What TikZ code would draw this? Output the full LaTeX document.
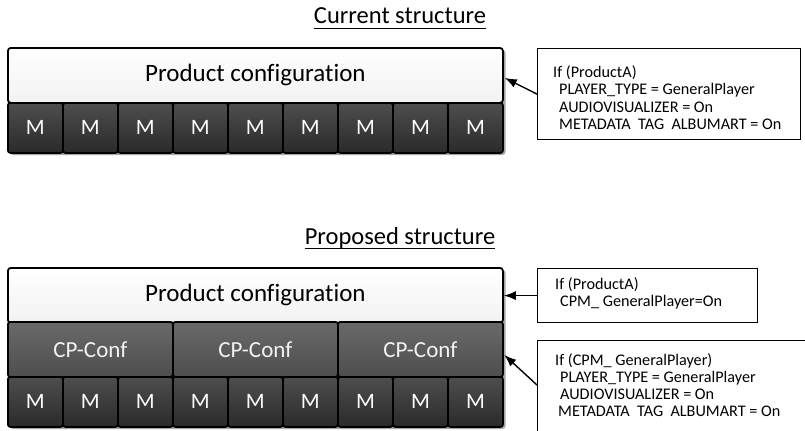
\documentclass[tikz,border=0pt]{standalone}
\usepackage{fontspec}
\setmainfont{Carlito}[Ligatures={NoCommon,NoRare,NoContextual}]
\usetikzlibrary{arrows.meta}
\definecolor{mTop}{HTML}{4E4E4E}
\definecolor{mBot}{HTML}{2A2A2A}
\definecolor{cTop}{HTML}{696969}
\definecolor{cBot}{HTML}{4E4E4E}
\definecolor{pBot}{HTML}{F2F2F2}
\definecolor{shadowgray}{HTML}{A6A6A6}
\tikzset{
  prodbox/.style={draw=black, line width=1.8bp, rounded corners=3bp, top color=white, bottom color=pBot,
    minimum width=495bp, minimum height=55bp, anchor=north west, inner sep=0, text=black,
    font=\fontsize{25bp}{30bp}\selectfont},
  mcell/.style={draw=black, line width=1.8bp, rounded corners=2.5bp, top color=mTop, bottom color=mBot,
    minimum width=55bp, minimum height=50bp, anchor=north west, inner sep=0, text=white,
    font=\fontsize{22bp}{26bp}\selectfont},
  cpcell/.style={draw=black, line width=1.8bp, rounded corners=2.5bp, top color=cTop, bottom color=cBot,
    minimum width=165bp, minimum height=55bp, anchor=north west, inner sep=0, text=white!95!black,
    font=\fontsize{23bp}{27bp}\selectfont},
  notebox/.style={draw=black, line width=1.2bp, anchor=north west, inner sep=0, fill=white},
  notetxt/.style={anchor=base west, inner sep=0, font=\fontsize{16.2bp}{17.5bp}\selectfont},
  titletxt/.style={anchor=base, inner sep=0, font=\fontsize{24.5bp}{28bp}\selectfont},
  arr/.style={-{Latex[length=12bp,width=9bp]}, line width=1.4bp},
  shadowfill/.style={fill=shadowgray, rounded corners=3bp}
}
\begin{document}
\begin{tikzpicture}[x=1bp, y=-1bp]
\useasboundingbox (0,0) rectangle (805,430);

% ---------- Current structure ----------
\node[titletxt] (t1) at (400,23.5) {Current structure};
\draw[line width=1.5bp] ([yshift=-5bp]t1.base west) -- ([yshift=-5bp]t1.base east);

\fill[shadowfill] (10,50) rectangle (505.5,155);
\node[prodbox] (prod1) at (7,47) {Product configuration};
\foreach \i in {0,...,8}
  \node[mcell] (ma\i) at ({7+55*\i},102) {M};

\node[notebox, minimum width=263bp, minimum height=91bp] (note1) at (537,48) {};
\node[notetxt] (n1a) at (553,77) {If (ProductA)};
\node[notetxt] (n1b) at (553,94.5) {\hspace*{6bp}PLAYER\_TYPE = GeneralPlayer};
\node[notetxt] (n1c) at (553,112) {\hspace*{6bp}AUDIOVISUALIZER = On};
\node[notetxt] (n1d) at (553,129.5) {\hspace*{6bp}METADATA\ \ TAG\ \ ALBUMART = On};

\draw[arr] (note1.west) -- ([shift={(1,2.5)}]prod1.east);

% ---------- Proposed structure ----------
\node[titletxt] (t2) at (400,244) {Proposed structure};
\draw[line width=1.5bp] ([yshift=-4.5bp]t2.base west) -- ([yshift=-4.5bp]t2.base east);

\fill[shadowfill] (10,270) rectangle (505.5,429);
\node[prodbox] (prod2) at (7,267) {Product configuration};
\foreach \i in {0,1,2}
  \node[cpcell] (cp\i) at ({7+165*\i},321) {CP-Conf};
\foreach \i in {0,...,8}
  \node[mcell] (mb\i) at ({7+55*\i},376) {M};

\node[notebox, minimum width=220bp, minimum height=54bp] (note2) at (537,268) {};
\node[notetxt] (n2a) at (555,289) {If (ProductA)};
\node[notetxt] (n2b) at (555,306.5) {\hspace*{5bp}CPM\_\ GeneralPlayer=On};

\begin{scope}
  \clip (0,0) rectangle (805,430);
  \node[notebox, minimum width=280bp, minimum height=100bp] (note3) at (537,340) {};
\end{scope}
\node[notetxt] (n3a) at (555,365) {If (CPM\_\ GeneralPlayer)};
\node[notetxt] (n3b) at (555,382) {\hspace*{5bp}PLAYER\_TYPE = GeneralPlayer};
\node[notetxt] (n3c) at (555,399) {\hspace*{5bp}AUDIOVISUALIZER = On};
\node[notetxt] (n3d) at (555,416) {\hspace*{3bp}METADATA\ \ TAG\ \ ALBUMART = On};

\draw[arr] (note2.west) -- (note2.west -| prod2.east);
\draw[arr] ([yshift=-45bp]note3.north west) -- ([shift={(0.5,5.5)}]cp2.east);
\end{tikzpicture}
\end{document}
